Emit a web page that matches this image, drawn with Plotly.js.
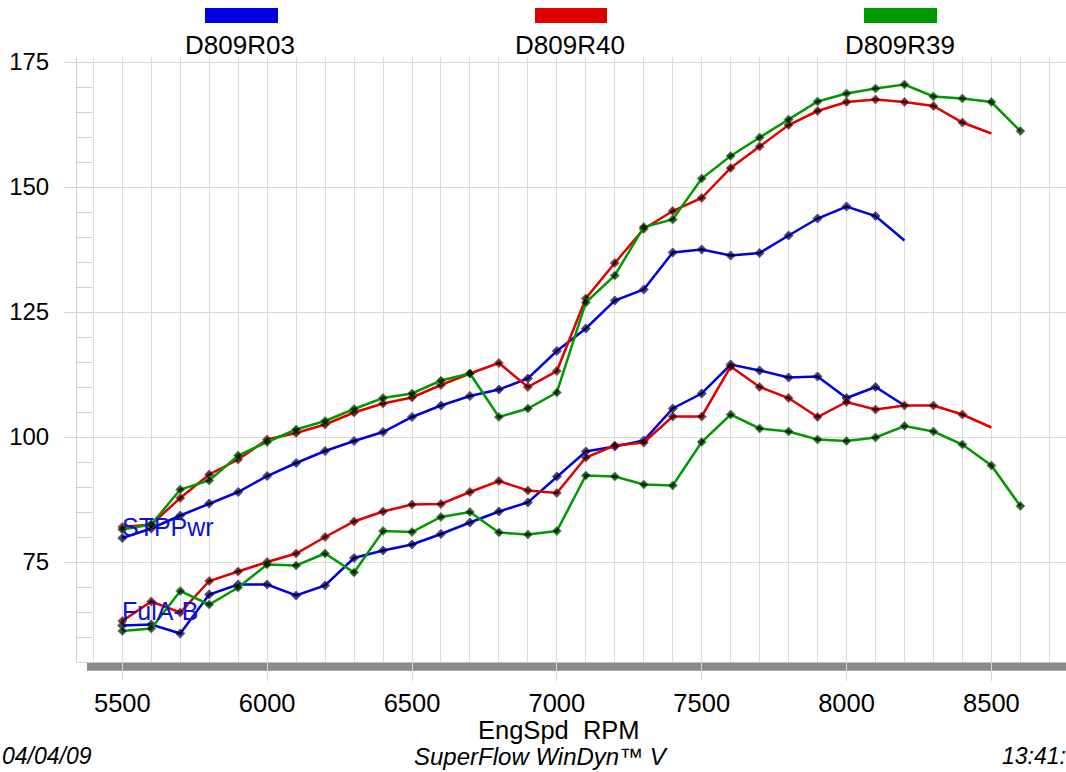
<!DOCTYPE html>
<html>
<head>
<meta charset="utf-8">
<script src="https://cdn.plot.ly/plotly-3.0.1.min.js"></script>
<style>html,body{margin:0;padding:0;background:#fff;}#chart{width:1066px;height:772px;}</style>
</head>
<body>
<div id="chart"></div>
<script>
// RPM values for each run
const rpmR03 = [5500,5600,5700,5800,5900,6000,6100,6200,6300,6400,6500,6600,6700,6800,6900,7000,7100,7200,7300,7400,7500,7600,7700,7800,7900,8000,8100,8200];
const rpmR40 = [5500,5600,5700,5800,5900,6000,6100,6200,6300,6400,6500,6600,6700,6800,6900,7000,7100,7200,7300,7400,7500,7600,7700,7800,7900,8000,8100,8200,8300,8400,8500];
const rpmR39 = [5500,5600,5700,5800,5900,6000,6100,6200,6300,6400,6500,6600,6700,6800,6900,7000,7100,7200,7300,7400,7500,7600,7700,7800,7900,8000,8100,8200,8300,8400,8500,8600];

// STPPwr
const pwrR03 = [79.8,81.7,84.3,86.7,89.0,92.2,94.8,97.2,99.2,101.0,104.0,106.3,108.2,109.5,111.7,117.2,121.7,127.3,129.5,136.9,137.5,136.3,136.8,140.3,143.7,146.1,144.2,139.3];
const pwrR40 = [82.0,82.5,87.8,92.5,95.5,99.5,100.8,102.5,104.9,106.7,107.9,110.4,112.7,114.8,110.0,113.2,127.7,134.8,141.6,145.2,147.8,153.8,158.1,162.4,165.2,167.0,167.5,167.0,166.2,162.9,160.7];
const pwrR39 = [81.5,82.5,89.5,91.3,96.3,99.0,101.5,103.2,105.6,107.8,108.7,111.3,112.7,104.0,105.7,108.9,126.9,132.3,142.0,143.5,151.7,156.2,159.9,163.5,167.1,168.7,169.7,170.5,168.1,167.7,167.0,161.2];

// FulA-B
const fulR03 = [62.3,62.5,60.7,68.5,70.5,70.5,68.3,70.3,75.8,77.3,78.5,80.6,82.9,85.1,86.9,92.1,97.1,98.1,99.3,105.7,108.7,114.5,113.3,111.9,112.1,107.8,110.0,106.3];
const fulR40 = [63.2,67.1,64.9,71.2,73.1,75.0,76.7,80.0,83.1,85.1,86.5,86.6,89.0,91.2,89.3,88.8,95.9,98.3,98.9,104.1,104.1,114.1,110.0,107.8,104.0,107.0,105.5,106.3,106.3,104.5,101.9];
const fulR39 = [61.2,61.7,69.2,66.5,69.9,74.5,74.3,76.7,72.9,81.2,81.0,84.0,85.0,80.9,80.5,81.2,92.3,92.1,90.5,90.3,99.0,104.5,101.7,101.1,99.5,99.2,99.9,102.2,101.1,98.5,94.3,86.2];

const runNames = ["D809R03","D809R40","D809R39"];
const xTickVals = [5500,6000,6500,7000,7500,8000,8500];
const yTickVals = [75,100,125,150,175];
const curveLabels = ["STPPwr","FulA-B"];

const colors = ["#0000e0","#e00000","#009a00"];
const FONT = "'Liberation Sans', Arial, sans-serif";

// Layout helpers (pixel -> paper)
const L = 77, R = 1066, T = 57, B = 662;
const px = x => (x - L) / (R - L);
const py = y => (B - y) / (B - T);

function mkTrace(x, y, color, lastMarker) {
  const sizes = x.map((_, i) => (i === x.length - 1 && !lastMarker) ? 0 : 7);
  return {
    x: x, y: y, type: 'scatter', mode: 'lines+markers',
    line: {color: color, width: 2.5},
    marker: {color: '#000', size: sizes, symbol: 'diamond'},
    showlegend: false, hoverinfo: 'skip'
  };
}

const data = [
  mkTrace(rpmR03, pwrR03, colors[0], false),
  mkTrace(rpmR03, fulR03, colors[0], false),
  mkTrace(rpmR40, pwrR40, colors[1], false),
  mkTrace(rpmR40, fulR40, colors[1], false),
  mkTrace(rpmR39, pwrR39, colors[2], true),
  mkTrace(rpmR39, fulR39, colors[2], true)
];

const legendRects = [[205,278],[535,607],[864,937]];
const legendCenters = [240, 570, 900];

const shapes = [
  {type:'rect', xref:'paper', yref:'paper', x0: px(87), x1: 1, y0: py(670.7), y1: py(662.5),
   fillcolor:'#8a8a8a', line:{width:0}, layer:'below'}
];
legendRects.forEach((r, i) => {
  shapes.push({type:'rect', xref:'paper', yref:'paper', x0: px(r[0]), x1: px(r[1]), y0: py(23), y1: py(8),
    fillcolor: colors[i], line:{width:0}});
});

const annotations = [];
runNames.forEach((n, i) => {
  annotations.push({xref:'paper', yref:'paper', x: px(legendCenters[i]), y: py(45), text: n, showarrow:false,
    xanchor:'center', yanchor:'middle', font:{family:FONT, size:26, color:'#000'}});
});
annotations.push({xref:'x', yref:'y', x: 5500, y: 82.1, text: curveLabels[0], showarrow:false,
  xanchor:'left', yanchor:'middle', font:{family:FONT, size:25, color:'#1010d0'}, xshift:-2});
annotations.push({xref:'x', yref:'y', x: 5500, y: 65.2, text: curveLabels[1], showarrow:false,
  xanchor:'left', yanchor:'middle', font:{family:FONT, size:25, color:'#1010d0'}, xshift:-2});
annotations.push({xref:'paper', yref:'paper', x: px(559), y: py(730), text:'EngSpd  RPM', showarrow:false,
  xanchor:'center', yanchor:'middle', font:{family:FONT, size:25.5, color:'#000'}});
annotations.push({xref:'paper', yref:'paper', x: px(541), y: py(756), text:'<i>SuperFlow WinDyn™ V</i>', showarrow:false,
  xanchor:'center', yanchor:'middle', font:{family:FONT, size:24, color:'#000'}});
annotations.push({xref:'paper', yref:'paper', x: px(0), y: py(756), text:'<i>04/04/09</i>', showarrow:false,
  xanchor:'left', yanchor:'middle', font:{family:FONT, size:23, color:'#000'}});
annotations.push({xref:'paper', yref:'paper', x: px(1000), y: py(756), text:'<i>13:41:</i>', showarrow:false,
  xanchor:'left', yanchor:'middle', font:{family:FONT, size:23, color:'#000'}});

const layout = {
  width: 1066, height: 772,
  margin: {l: L, r: 1066 - R, t: T, b: 772 - B, pad: 0},
  paper_bgcolor: '#fff', plot_bgcolor: '#fff',
  showlegend: false,
  xaxis: {
    range: [5343.6, 8757.6], tickvals: xTickVals, ticktext: xTickVals.map(String),
    showgrid: true, gridcolor: '#dadada', gridwidth: 1,
    minor: {dtick: 100, tick0: 5400, showgrid: true, gridcolor: '#dadada', gridwidth: 1, ticks: ''},
    ticks: 'outside', ticklen: 18, tickcolor: '#d8d8d8', tickwidth: 1,
    showline: false, zeroline: false,
    tickfont: {family: FONT, size: 25.5, color: '#000'}, ticklabelstandoff: 0
  },
  yaxis: {
    range: [55, 176], tickvals: yTickVals, ticktext: yTickVals.map(String),
    showgrid: true, gridcolor: '#dadada', gridwidth: 1,
    minor: {dtick: 5, tick0: 55, showgrid: false, ticks: 'inside', ticklen: 15, tickcolor: '#d0d0d0', tickwidth: 1},
    ticks: 'outside', ticklen: 12, tickcolor: '#dadada', tickwidth: 1,
    showline: true, linecolor: '#d0d0d0', linewidth: 1, mirror: false, zeroline: false,
    tickfont: {family: FONT, size: 24, color: '#000'}, ticklabelstandoff: 10
  },
  shapes: shapes,
  annotations: annotations
};

Plotly.newPlot('chart', data, layout, {staticPlot: true, displayModeBar: false});
</script>
</body>
</html>
